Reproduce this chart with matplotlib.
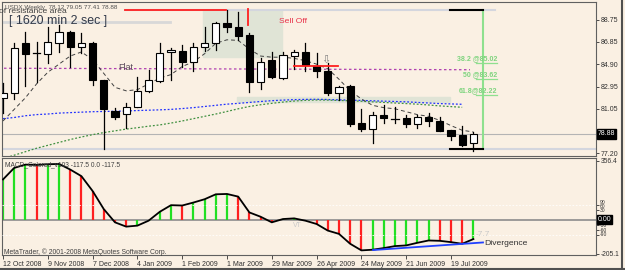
import numpy as np
import matplotlib.pyplot as plt
from matplotlib.patches import Rectangle
from matplotlib.lines import Line2D

plt.rcParams['font.family'] = ['Liberation Sans', 'DejaVu Sans']

# weekly USDX bars, 12 Oct 2008 .. 2 Aug 2009
opens = [81.95, 82.41, 86.70, 85.80, 85.75, 86.75, 87.65, 86.40, 86.75, 83.53,
         80.90, 80.60, 81.23, 82.61, 83.48, 85.92, 86.06, 85.06, 86.40, 86.70,
         88.42, 88.08, 87.41, 83.39, 85.26, 83.73, 85.63, 85.97, 84.74, 84.31,
         82.39, 83.02, 79.80, 79.31, 80.52, 80.23, 80.23, 79.74, 80.37, 80.02,
         79.20, 78.80, 78.12]
highs = [83.30, 86.72, 87.70, 86.84, 88.08, 88.28, 87.75, 87.56, 86.80, 83.55,
         81.10, 81.53, 83.82, 84.40, 86.70, 86.30, 86.55, 86.70, 88.13, 88.50,
         89.57, 89.37, 87.56, 85.40, 85.97, 85.97, 86.10, 86.75, 85.89, 84.97,
         83.00, 83.10, 81.00, 80.80, 81.38, 81.24, 80.50, 80.50, 80.66, 80.37,
         79.25, 79.60, 79.05]
lows = [80.70, 81.90, 83.02, 83.39, 84.97, 85.97, 84.68, 85.84, 83.10, 77.56,
        80.15, 79.42, 81.20, 82.50, 83.40, 83.50, 84.68, 84.34, 86.06, 86.10,
        87.70, 86.98, 82.53, 82.73, 83.68, 83.60, 84.50, 84.34, 83.77, 82.24,
        81.80, 79.60, 79.10, 78.13, 79.85, 79.85, 79.50, 79.37, 79.57, 79.10,
        78.40, 77.80, 77.41]
closes = [82.40, 86.29, 85.75, 85.86, 86.78, 87.67, 86.40, 86.75, 83.53, 81.01,
          80.37, 81.23, 82.61, 83.53, 85.89, 86.12, 85.06, 86.35, 86.70, 88.42,
          88.08, 87.35, 83.34, 85.11, 83.82, 85.69, 85.92, 84.83, 84.34, 82.39,
          82.96, 79.74, 79.31, 80.52, 80.23, 80.20, 79.74, 80.37, 80.02, 79.16,
          78.73, 77.93, 78.88]

ma_fast = [80.0, 81.0, 82.0, 83.2, 84.2, 84.9, 85.6, 85.95, 85.3, 84.1,
           82.9, 82.6, 82.7, 83.2, 83.7, 84.0, 84.7, 85.1, 85.8, 86.7,
           87.0, 86.95, 86.2, 85.6, 85.5, 85.5, 85.4, 85.2, 84.9, 84.5,
           83.6, 82.6, 81.9, 81.35, 81.15, 81.05, 80.8, 80.55, 80.4, 80.05,
           79.6, 79.2, 79.05]
ma_blue = [80.2, 80.3, 80.45, 80.55, 80.6, 80.68, 80.72, 80.76, 80.8, 80.82,
           80.84, 80.86, 80.9, 80.93, 80.96, 81.0, 81.07, 81.15, 81.25, 81.35,
           81.45, 81.52, 81.6, 81.68, 81.75, 81.8, 81.84, 81.86, 81.87, 81.85,
           81.82, 81.8, 81.77, 81.74, 81.71, 81.68, 81.65, 81.6, 81.55, 81.5,
           81.47, 81.44]
ma_green = [76.75, 77.05, 77.35, 77.65, 77.9, 78.15, 78.4, 78.62, 78.82, 79.0,
            79.15, 79.3, 79.42, 79.55, 79.66, 79.82, 80.0, 80.2, 80.4, 80.6,
            80.82, 81.05, 81.25, 81.4, 81.52, 81.63, 81.72, 81.78, 81.81, 81.8,
            81.77, 81.74, 81.7, 81.65, 81.6, 81.55, 81.5, 81.45, 81.38, 81.3,
            81.24, 81.18]

macd = [244, 314, 334, 332, 336, 338, 304, 264, 174, 64,
        -16, -42, -36, -6, 48, 88, 86, 104, 124, 154,
        156, 140, 44, 18, -16, 4, 8, -6, -26, -66,
        -86, -146, -186, -182, -172, -160, -156, -140, -126, -128,
        -136, -146, -117.5]

tick_bars = [0, 4, 8, 12, 16, 20, 24, 28, 32, 36, 40]
tick_labels = ['12 Oct 2008', '9 Nov 2008', '7 Dec 2008', '4 Jan 2009', '1 Feb 2009',
               '1 Mar 2009', '29 Mar 2009', '26 Apr 2009', '24 May 2009', '21 Jun 2009',
               '19 Jul 2009']
price_ticks = [88.75, 86.85, 84.90, 82.95, 81.05, 77.20]
fib_levels = [85.02, 83.62, 82.22]
fib_names = ['38.2 @85.02', '50 @83.62', '61.8@82.22']
fib_hi, fib_lo = 89.55, 77.62
last_price = 78.88
macd_levels = [90, 60, 30, -30, -60, -90]
macd_level_pos = [102, 78, 54, -38, -64, -90]   # where MT4 nudged the crowded labels

bg = '#faf0e3'
W, H = 625, 270
fig = plt.figure(figsize=(6.25, 2.70), dpi=100, facecolor=bg)
ax1 = fig.add_axes([2 / W, 1 - 156 / H, 594 / W, 154 / H], facecolor=bg)
ax2 = fig.add_axes([2 / W, 1 - 255 / H, 594 / W, 97 / H], facecolor=bg)

n = len(opens)
x = np.arange(n)

# zones
ax1.add_patch(Rectangle((17.86, 85.54), 24.91 - 17.86, 89.57 - 85.54, color='#e0e4d6', zorder=0))
ax1.add_patch(Rectangle((20.89, 81.6), 39.91 - 20.89, 82.11 - 81.6, color='#e0e4d6', zorder=0))

ax1.axhline(last_price, color='#b4b4b4', lw=0.8, zorder=1)
ax1.axhline(fib_lo, color='#d4d6de', lw=1.5, zorder=1)
ax1.plot([10.89, 43.93], [fib_hi, fib_hi], color='#d4d6de', lw=1.5, zorder=1)
ax1.plot([-0.5, 14.91], [88.56, 88.56], color='#d8d8d8', lw=2, zorder=1)

ax1.plot([-0.5, 41.7], [84.55, 84.42], color='#b040b0', lw=0.9, ls=(0, (2, 2)), zorder=1)
ax1.plot(x[:len(ma_blue)], ma_blue, color='#2030ff', lw=0.9, ls=(0, (1.5, 1.5)), zorder=1)
ax1.plot(x[:len(ma_green)], ma_green, color='#409040', lw=0.9, ls=(0, (1.5, 1.5)), zorder=1)
ax1.plot(x, ma_fast, color='#404040', lw=0.7, ls=(0, (4, 3)), zorder=2)

# candles
for i in range(n):
    o, h, l, c = opens[i], highs[i], lows[i], closes[i]
    ax1.plot([i, i], [l, h], color='black', lw=0.9, zorder=3)
    if abs(c - o) < 0.08:
        ax1.plot([i - 0.33, i + 0.33], [c, c], color='black', lw=0.9, zorder=4)
    else:
        fc = 'white' if c > o else 'black'
        ax1.add_patch(Rectangle((i - 0.32, min(o, c)), 0.64, abs(c - o), facecolor=fc,
                                edgecolor='black', lw=0.8, zorder=4))

# lines drawn on chart
ax1.plot([10.89, 19.91], [89.6, 89.6], color='#ff2020', lw=1.3, zorder=5)
ax1.plot([21.88, 21.88], [88.27, 89.65], color='#ff2020', lw=1.3, zorder=5)
ax1.plot([25.98, 29.91], [84.77, 84.77], color='#ff2020', lw=1.3, zorder=5)
ax1.text(28.84, 85.3, '\u21e9', family='DejaVu Sans', fontsize=8, ha='center', va='center',
         color='#808080', zorder=6)

# fibonacci
ax1.plot([42.86, 42.86], [fib_lo, fib_hi], color='#8ee08e', lw=1.5, zorder=5)
ax1.plot([39.91, 42.86], [fib_hi, fib_hi], color='black', lw=1.5, zorder=5)
ax1.plot([39.91, 42.86], [fib_lo, fib_lo], color='black', lw=1.5, zorder=5)
for lvl, name in zip(fib_levels, fib_names):
    ax1.plot([42.23, 44.1], [lvl, lvl], color='#8ee08e', lw=0.9, zorder=5)
    ax1.text(44.1, lvl + 0.08, name, color='#7ed47e', fontsize=5, fontweight='bold',
             ha='right', va='bottom', zorder=6)

ax1.text(24.64, 88.56, 'Sell Off', color='#e83048', fontsize=6.1, va='center', zorder=6)
ax1.text(10.27, 84.6, 'Flat', color='#5a4a5a', fontsize=6.5, va='center', zorder=6)

fig.text(5 / W, 1 - 7 / H, 'USDX,Weekly  78.12 79.05 77.41 78.88', fontsize=4.6,
         color='#505050', va='center')
fig.text(-1 / W, 1 - 11.5 / H, 'of resistance area', fontsize=6.1, color='#404040', va='center')
fig.text(9 / W, 1 - 21 / H, '[ 1620 min 2 sec ]', fontsize=8.9, color='#303848', va='center')

ax1.set_xlim(-0.09, 52.95)
ax1.set_ylim(76.98, 90.26)
ax1.set_xticks([])
ax1.yaxis.tick_right()
ax1.set_yticks(price_ticks)
ax1.set_yticklabels(['%.2f' % p for p in price_ticks])
ax1.tick_params(axis='y', labelsize=5, length=2, pad=1.5, colors='#303030', width=0.6)
ax1.text(1.003, last_price, '%.2f' % last_price, transform=ax1.get_yaxis_transform(),
         fontsize=5, color='white', va='center', ha='left',
         bbox=dict(boxstyle='square,pad=0.15', fc='black', ec='black'))

# MACD
cols = ['#22e022'] + ['#22e022' if macd[i] >= macd[i - 1] else '#ff2020' for i in range(1, n)]
ax2.vlines(x, 0, macd, colors=cols, lw=1.6, zorder=2)
ax2.axhline(0, color='#8c8c8c', lw=1.2, zorder=1)
for lv in (90, -90):
    ax2.axhline(lv, color='white', lw=0.6, ls=(0, (2, 2)), zorder=3)
ax2.plot(x, macd, color='black', lw=1.3, zorder=4)
ax2.plot([33.04, 42.86], [-184, -138], color='#2040ff', lw=1.3, zorder=4)
ax2.text(42.95, -144, 'Divergence', fontsize=6.1, color='#303030', va='center', zorder=5)
ax2.text(25.9, -34, 'VT', fontsize=5, color='#c8c8c8', va='center', zorder=5)
ax2.text(42.2, -88, '-7.7', fontsize=6, color='#c8c8c8', va='center', zorder=5)
ax2.text(0.15, 332, 'MACD_Colored_v103 -117.5 0.0 -117.5', fontsize=4.8, color='#404040',
         va='center', zorder=5)
ax2.text(0.1, -198, 'MetaTrader, \u00a9 2001-2008 MetaQuotes Software Corp.', fontsize=4.9,
         color='#404040', va='center', zorder=5)

ax2.set_xlim(-0.09, 52.95)
ax2.set_ylim(-214, 374)
ax2.yaxis.tick_right()
ax2.set_yticks([356.4] + macd_levels + [-205.1])
ax2.set_yticklabels(['356.4'] + [''] * len(macd_levels) + ['-205.1'])
ax2.tick_params(axis='y', labelsize=4.8, length=2, pad=1.5, colors='#303030', width=0.6)
ytr = ax2.get_yaxis_transform()
for lv, pos in zip(macd_levels, macd_level_pos):
    ax2.text(1.006, pos, str(lv), transform=ytr, fontsize=3.6, color='#303030',
             va='center', ha='left')
ax2.text(1.003, 0, '0.00', transform=ytr, fontsize=5, color='white',
         va='center', ha='left', bbox=dict(boxstyle='square,pad=0.15', fc='black', ec='black'))
ax2.set_xticks(tick_bars)
ax2.set_xticklabels(tick_labels, ha='left')
ax2.tick_params(axis='x', labelsize=5, length=3, pad=1, colors='#303030', width=0.6)

for a in (ax1, ax2):
    for s in a.spines.values():
        s.set_color('#606060')
        s.set_linewidth(0.8)

fig.add_artist(Line2D([621.5 / W, 621.5 / W], [0, 1], color='#505050', lw=1.5))
fig.add_artist(Line2D([0, 1], [1.5 / H, 1.5 / H], color='#505050', lw=1.5))

fig.savefig('out.png', dpi=100, facecolor=bg)
